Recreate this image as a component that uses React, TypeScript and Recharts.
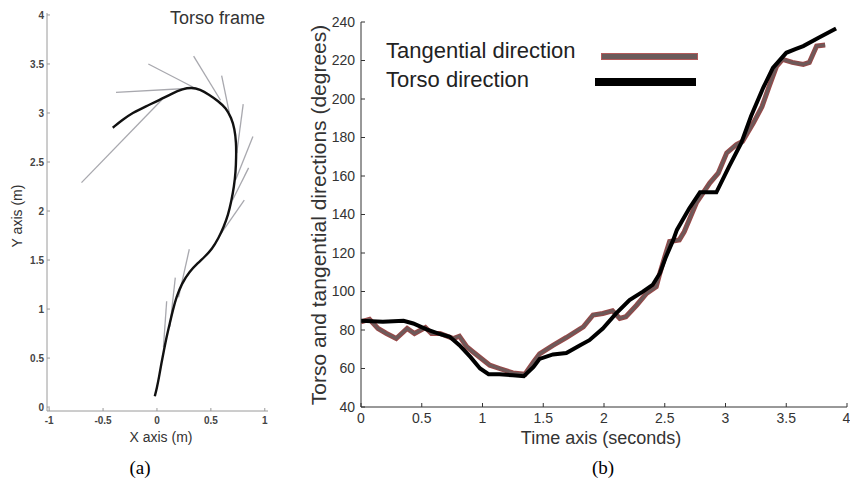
import React from "react";
import { LineChart, Line, XAxis, YAxis } from "recharts";

// ---------- Panel (a): torso frame trajectory ----------
const pathX = [-0.41, -0.32, -0.23, -0.1, 0.02, 0.14, 0.24, 0.32, 0.4, 0.48, 0.57, 0.64, 0.69, 0.72, 0.735, 0.735, 0.73, 0.715, 0.69, 0.66, 0.62, 0.57, 0.51, 0.44, 0.38, 0.3, 0.23, 0.18, 0.15, 0.12, 0.09, 0.065, 0.04, 0.02, 0.0, -0.02];
const pathY = [2.85, 2.93, 3.0, 3.07, 3.13, 3.2, 3.245, 3.26, 3.24, 3.19, 3.12, 3.05, 2.95, 2.84, 2.7, 2.55, 2.4, 2.25, 2.1, 1.96, 1.84, 1.72, 1.61, 1.53, 1.47, 1.38, 1.26, 1.12, 1.0, 0.86, 0.72, 0.58, 0.44, 0.31, 0.2, 0.11];

const tanX1 = [-0.7, -0.38, -0.08, 0.34, 0.6, 0.8, 0.89, 0.85, 0.81, 0.3, 0.17, 0.09];
const tanY1 = [2.29, 3.21, 3.5, 3.58, 3.38, 3.09, 2.76, 2.44, 2.11, 1.61, 1.32, 1.08];
const tanX2 = [0.05, 0.27, 0.36, 0.59, 0.67, 0.74, 0.73, 0.7, 0.6, 0.2, 0.12, 0.06];
const tanY2 = [3.14, 3.25, 3.25, 3.13, 3.01, 2.59, 2.32, 2.11, 1.78, 1.12, 0.82, 0.61];

const aXTicks = [-1, -0.5, 0, 0.5, 1];
const aYTicks = [0, 0.5, 1, 1.5, 2, 2.5, 3, 3.5, 4];

// ---------- Panel (b): directions over time ----------
const torsoT = [0, 0.18, 0.35, 0.43, 0.54, 0.65, 0.73, 0.81, 0.9, 0.98, 1.05, 1.14, 1.25, 1.34, 1.42, 1.47, 1.58, 1.69, 1.8, 1.88, 1.99, 2.1, 2.21, 2.32, 2.4, 2.46, 2.51, 2.57, 2.6, 2.7, 2.79, 2.925, 3.03, 3.13, 3.21, 3.31, 3.39, 3.5, 3.58, 3.64, 3.77, 3.91];
const torsoV = [84.8, 84.3, 84.8, 83.4, 80.3, 77.9, 76.5, 72.1, 66, 60, 57, 57, 56.5, 56, 60.8, 65, 67.3, 68, 72, 74.7, 80.8, 88.6, 95.6, 99.9, 103.4, 109.5, 118, 126.8, 132, 143, 151.5, 151.5, 165, 177.2, 191, 205.8, 216.2, 224, 226, 227.5, 231.9, 236.6];

const tangT = [0, 0.07, 0.14, 0.21, 0.29, 0.38, 0.44, 0.53, 0.58, 0.65, 0.76, 0.81, 0.87, 0.92, 0.99, 1.06, 1.14, 1.25, 1.35, 1.42, 1.47, 1.58, 1.69, 1.8, 1.83, 1.91, 1.99, 2.07, 2.13, 2.18, 2.27, 2.35, 2.43, 2.46, 2.5, 2.54, 2.62, 2.66, 2.76, 2.87, 2.94, 3.01, 3.09, 3.14, 3.23, 3.3, 3.36, 3.42, 3.47, 3.55, 3.64, 3.69, 3.75, 3.82];
const tangV = [84.3, 85.5, 80.8, 78.2, 75.6, 80.8, 78.2, 81.3, 78.2, 78.2, 75.6, 76.8, 71.3, 68.7, 65.2, 61.7, 60, 57.7, 57, 63.4, 67.6, 72, 76.1, 80.5, 81.6, 87.8, 88.6, 90, 86, 86.9, 93, 99, 102.5, 109.5, 118, 126, 126.8, 131, 146, 156.3, 161.5, 172, 176.3, 178, 187.6, 196, 206.7, 217, 220.6, 219, 218, 219, 227.5, 228];

const bXTicks = [0, 0.5, 1, 1.5, 2, 2.5, 3, 3.5, 4];
const bYTicks = [40, 60, 80, 100, 120, 140, 160, 180, 200, 220, 240];

const pathData = pathX.map((x, i) => ({ x, y: pathY[i] }));
const tangents = tanX1.map((x, i) => [
  { x, y: tanY1[i] },
  { x: tanX2[i], y: tanY2[i] },
]);
const torsoData = torsoT.map((t, i) => ({ t, v: torsoV[i] }));
const tangData = tangT.map((t, i) => ({ t, v: tangV[i] }));

const sans = "'Liberation Sans', Arial, sans-serif";
const serif = "'Liberation Serif', 'Times New Roman', serif";

const abs = (s: React.CSSProperties): React.CSSProperties => ({
  position: "absolute",
  whiteSpace: "nowrap",
  lineHeight: 1,
  ...s,
});

export default function App() {
  return (
    <div
      style={{
        position: "absolute",
        left: 0,
        top: 0,
        width: 850,
        height: 488,
        background: "#fff",
        overflow: "hidden",
      }}
    >
      {/* Panel (a) */}
      <div style={abs({ left: 0, top: 0 })}>
        <LineChart
          width={290}
          height={440}
          margin={{ top: 13, right: 22, bottom: 9, left: 7 }}
        >
          <XAxis
            type="number"
            dataKey="x"
            domain={[-1.02, 1.03]}
            ticks={aXTicks}
            height={20}
            tickSize={-3}
            tickMargin={9}
            stroke="#9a9a9a"
            tick={{ fill: "#444", fontSize: 10, fontFamily: sans, fontWeight: 700 }}
            allowDataOverflow
          />
          <YAxis
            type="number"
            dataKey="y"
            domain={[-0.04, 4.02]}
            ticks={aYTicks}
            width={40}
            tickSize={-3}
            tickMargin={6}
            stroke="#9a9a9a"
            tick={{ fill: "#444", fontSize: 10, fontFamily: sans, fontWeight: 700 }}
            allowDataOverflow
          />
          {tangents.map((seg, i) => (
            <Line
              key={"tan" + i}
              data={seg}
              dataKey="y"
              type="linear"
              stroke="#a8a8ae"
              strokeWidth={1.3}
              dot={false}
              isAnimationActive={false}
            />
          ))}
          <Line
            data={pathData}
            dataKey="y"
            type="basis"
            stroke="#111"
            strokeWidth={2.4}
            dot={false}
            isAnimationActive={false}
          />
        </LineChart>
      </div>
      <div style={abs({ left: 170, top: 18, transform: "translateY(-50%)", fontFamily: sans, fontSize: 18, color: "#333" })}>
        Torso frame
      </div>
      <div style={abs({ left: 161, top: 437, transform: "translate(-50%,-50%)", fontFamily: sans, fontSize: 14, color: "#333" })}>
        X axis (m)
      </div>
      <div style={abs({ left: 17, top: 216, transform: "translate(-50%,-50%) rotate(-90deg)", fontFamily: sans, fontSize: 14, color: "#333" })}>
        Y axis (m)
      </div>

      {/* Panel (b) */}
      <div style={abs({ left: 300, top: 0 })}>
        <LineChart
          width={550}
          height={450}
          margin={{ top: 22, right: 3, bottom: 23, left: 21 }}
        >
          <XAxis
            type="number"
            dataKey="t"
            domain={[0, 4]}
            ticks={bXTicks}
            height={20}
            tickSize={-4}
            tickMargin={10}
            stroke="#333"
            tick={{ fill: "#333", fontSize: 14, fontFamily: sans }}
            allowDataOverflow
          />
          <YAxis
            type="number"
            dataKey="v"
            domain={[40, 240]}
            ticks={bYTicks}
            width={40}
            tickSize={-4}
            tickMargin={10}
            stroke="#333"
            tick={{ fill: "#333", fontSize: 14, fontFamily: sans }}
            allowDataOverflow
          />
          <Line
            data={tangData}
            dataKey="v"
            type="linear"
            stroke="#9a4848"
            strokeWidth={5}
            dot={false}
            isAnimationActive={false}
          />
          <Line
            data={tangData}
            dataKey="v"
            type="linear"
            stroke="#6e5959"
            strokeWidth={3}
            dot={false}
            isAnimationActive={false}
          />
          <Line
            data={torsoData}
            dataKey="v"
            type="linear"
            stroke="#000"
            strokeWidth={4}
            dot={false}
            isAnimationActive={false}
          />
        </LineChart>
      </div>

      {/* Legend (b) */}
      <div style={abs({ left: 386, top: 51, transform: "translateY(-50%)", fontFamily: sans, fontSize: 22, color: "#222" })}>
        Tangential direction
      </div>
      <div style={abs({ left: 601, top: 53, width: 97, height: 7, background: "#6b5a5a", border: "1px solid #b45a5a", boxSizing: "border-box" })} />
      <div style={abs({ left: 386, top: 80, transform: "translateY(-50%)", fontFamily: sans, fontSize: 22, color: "#222" })}>
        Torso direction
      </div>
      <div style={abs({ left: 595, top: 78, width: 101, height: 8, background: "#000" })} />

      <div style={abs({ left: 601, top: 438, transform: "translate(-50%,-50%)", fontFamily: sans, fontSize: 18, color: "#333" })}>
        Time axis (seconds)
      </div>
      <div style={abs({ left: 318, top: 215, transform: "translate(-50%,-50%) rotate(-90deg)", fontFamily: sans, fontSize: 21, color: "#333" })}>
        Torso and tangential directions (degrees)
      </div>

      {/* Captions */}
      <div style={abs({ left: 140, top: 467, transform: "translate(-50%,-50%)", fontFamily: serif, fontSize: 19, color: "#000" })}>
        (a)
      </div>
      <div style={abs({ left: 603, top: 467, transform: "translate(-50%,-50%)", fontFamily: serif, fontSize: 19, color: "#000" })}>
        (b)
      </div>
    </div>
  );
}
